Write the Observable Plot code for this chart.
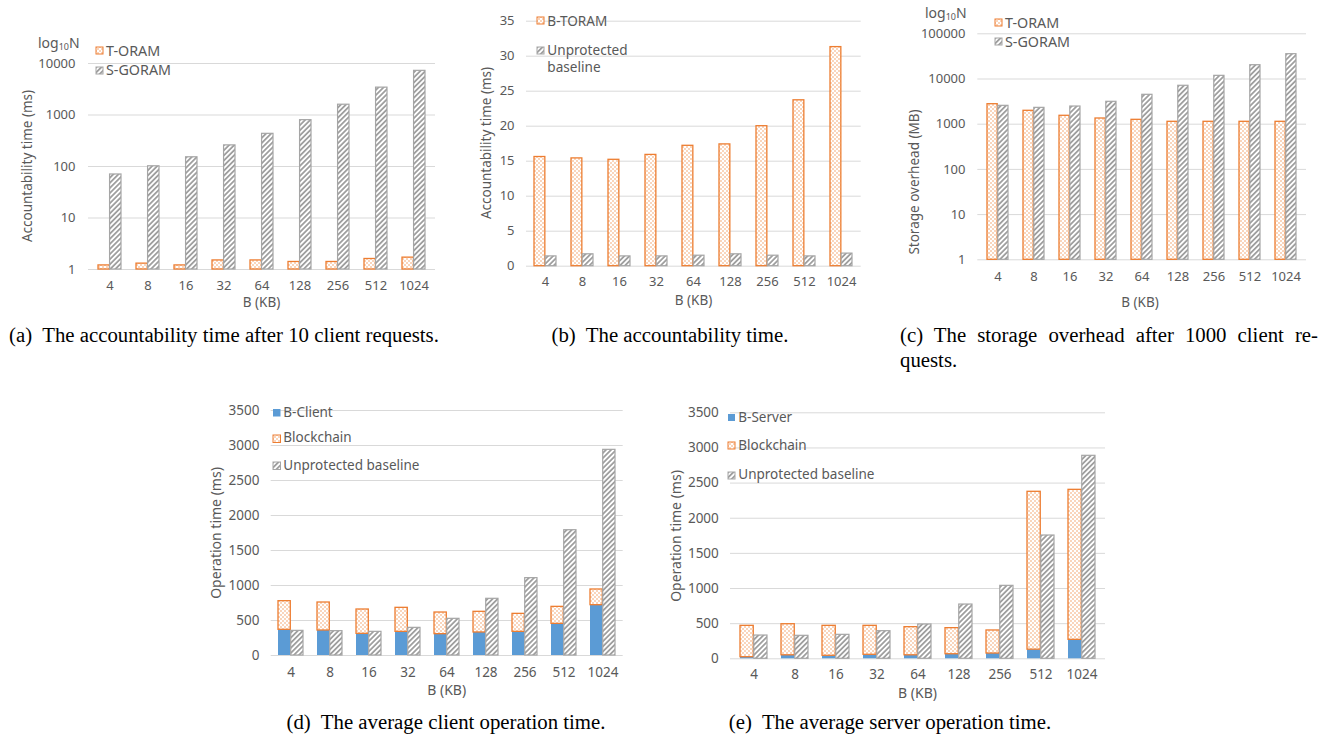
<!DOCTYPE html>
<html><head><meta charset="utf-8">
<script src="https://cdn.jsdelivr.net/npm/d3@7"></script>
<script src="https://cdn.jsdelivr.net/npm/@observablehq/plot@0.6"></script>
<style>
html,body{margin:0;padding:0;background:#fff;}
body{width:1328px;height:740px;position:relative;overflow:hidden;font-family:"Noto Sans",sans-serif;}
.chart{position:absolute;}
.lbl{position:absolute;color:#595959;white-space:nowrap;line-height:1;}
.cap{position:absolute;font-family:"Liberation Serif","Times New Roman",serif;font-size:20.8px;color:#000;white-space:pre;line-height:1;}
</style></head><body>
<svg width="0" height="0" style="position:absolute">
<defs>
<pattern id="dots" width="4" height="4" patternUnits="userSpaceOnUse">
<rect width="4" height="4" fill="#fff"/>
<rect width="2" height="2" fill="#F9D5BC"/>
<rect x="2" y="2" width="2" height="2" fill="#F9D5BC"/>
</pattern>
<pattern id="hatch" width="3.6" height="3.6" patternUnits="userSpaceOnUse" patternTransform="rotate(45)">
<rect width="3.6" height="3.6" fill="#fff"/>
<line x1="1.8" y1="0" x2="1.8" y2="3.6" stroke="#8C8C8C" stroke-width="1.5"/>
</pattern>
</defs></svg>
<script>
// ---------- data ----------
const categories = ["4","8","16","32","64","128","256","512","1024"];

// (a) accountability time after 10 client requests (ms, log)
const aTORAM  = [1.2, 1.3, 1.2, 1.5, 1.5, 1.4, 1.4, 1.6, 1.7];
const aSGORAM = [70, 101, 151, 257, 431, 794, 1585, 3400, 7200];
const aTicks  = [1, 10, 100, 1000, 10000];

// (b) accountability time (ms)
const bBTORAM   = [15.6, 15.4, 15.2, 15.9, 17.2, 17.4, 20.0, 23.7, 31.3];
const bBaseline = [1.4, 1.7, 1.4, 1.4, 1.5, 1.7, 1.5, 1.4, 1.8];
const bTicks    = [0, 5, 10, 15, 20, 25, 30, 35];

// (c) storage overhead after 1000 client requests (MB, log)
const cTORAM  = [2770, 1980, 1535, 1337, 1250, 1130, 1130, 1130, 1130];
const cSGORAM = [2550, 2300, 2460, 3130, 4470, 7080, 11750, 20200, 35400];
const cTicks  = [1, 10, 100, 1000, 10000, 100000];

// (d) average client operation time (ms)
const dClient   = [367, 357, 310, 338, 305, 329, 338, 452, 719];
const dChain    = [409, 400, 347, 343, 309, 295, 257, 243, 224];
const dBaseline = [352, 348, 338, 395, 524, 810, 1105, 1790, 2938];
const opTicks   = [0, 500, 1000, 1500, 2000, 2500, 3000, 3500];

// (e) average server operation time (ms)
const eServer   = [23, 50, 43, 57, 50, 65, 75, 130, 270];
const eChain    = [446, 442, 426, 412, 400, 371, 328, 2246, 2134];
const eBaseline = [331, 327, 341, 393, 488, 772, 1038, 1754, 2888];

// ---------- styles ----------
const ORANGE = "#ED7D31", GRAY = "#A5A5A5", BLUE = "#5B9BD5", GRID = "#D9D9D9", TEXT = "#595959";
const SW = {
  orange: {fill: "url(#dots)", stroke: ORANGE, sw: 1.3},
  gray:   {fill: "url(#hatch)", stroke: GRAY, sw: 1.2},
  blue:   {fill: BLUE, stroke: "none", sw: 0}
};

function chart(c) {
  const n = categories.length;
  const step = (c.width - c.ml - c.mr) / n;
  const half = step * (1 - c.pad) / 2;
  const base = c.log ? 1 : 0;
  const marks = [Plot.ruleY(c.ticks, {stroke: GRID, strokeWidth: 1})];
  for (const s of c.series) {
    const data = categories.map((cat, i) => ({
      cat,
      lo: s.under ? s.under[i] : base,
      hi: (s.under ? s.under[i] : 0) + s.values[i]
    }));
    const st = SW[s.style];
    marks.push(Plot.barY(data, {
      x: "cat", y1: "lo", y2: "hi",
      fill: st.fill, stroke: st.stroke, strokeWidth: st.sw,
      insetLeft: s.side === "left" ? 0 : half,
      insetRight: s.side === "left" ? half : 0
    }));
  }
  const svg = Plot.plot({
    width: c.width, height: c.height,
    marginLeft: c.ml, marginRight: c.mr, marginTop: c.mt, marginBottom: c.mb,
    style: {fontFamily: '"Noto Sans", sans-serif', fontSize: c.fs + "px", color: TEXT, background: "transparent", overflow: "visible"},
    x: {domain: categories, paddingInner: c.pad, paddingOuter: c.pad / 2, align: 0.5, tickSize: 0, tickPadding: c.xtp, label: null},
    y: {type: c.log ? "log" : "linear", domain: c.domain, ticks: c.ticks, tickFormat: d => String(d), tickSize: 0, tickPadding: c.ytp, label: null},
    marks
  });
  const div = document.createElement("div");
  div.className = "chart";
  div.style.left = c.left + "px";
  div.style.top = c.top + "px";
  div.style.width = c.width + "px";
  div.style.height = c.height + "px";
  div.appendChild(svg);
  document.body.appendChild(div);
}

function text(html, x, y, o = {}) {
  const d = document.createElement("div");
  d.className = o.cls || "lbl";
  d.innerHTML = html;
  d.style.left = x + "px";
  d.style.top = y + "px";
  if (o.fs) d.style.fontSize = o.fs + "px";
  let tr = o.anchor === "middle" ? "translate(-50%,-50%)" : "translate(0,-50%)";
  if (o.rotate) tr = "translate(-50%,-50%) rotate(-90deg)";
  d.style.transform = tr;
  document.body.appendChild(d);
  return d;
}

function legend(x, tx, items, fs, size) {
  for (const it of items) {
    const st = SW[it.style];
    const ns = "http://www.w3.org/2000/svg";
    const s = document.createElementNS(ns, "svg");
    s.setAttribute("width", size + 2); s.setAttribute("height", size + 2);
    s.style.position = "absolute";
    s.style.left = (x - 1) + "px";
    s.style.top = (it.y - size / 2 - 1) + "px";
    const r = document.createElementNS(ns, "rect");
    r.setAttribute("x", 1); r.setAttribute("y", 1);
    r.setAttribute("width", size); r.setAttribute("height", size);
    r.setAttribute("fill", st.fill);
    if (st.stroke !== "none") { r.setAttribute("stroke", st.stroke); r.setAttribute("stroke-width", 1); }
    s.appendChild(r);
    document.body.appendChild(s);
    text(it.label, tx, it.y, {fs});
    if (it.label2) text(it.label2, tx, it.y2, {fs});
  }
}

// (a)
chart({left: 0, top: 0, width: 440, height: 320, ml: 88, mr: 5, mt: 63, mb: 51, log: true,
  domain: [1, 10000], ticks: aTicks, fs: 13, ytp: 13, xtp: 11, pad: 0.4,
  series: [{values: aTORAM, style: "orange", side: "left"}, {values: aSGORAM, style: "gray", side: "right"}]});
// (b)
chart({left: 440, top: 0, width: 440, height: 320, ml: 86, mr: 19.3, mt: 20.7, mb: 54.3, log: false,
  domain: [0, 35], ticks: bTicks, fs: 13, ytp: 12, xtp: 11, pad: 0.4,
  series: [{values: bBTORAM, style: "orange", side: "left"}, {values: bBaseline, style: "gray", side: "right"}]});
// (c)
chart({left: 880, top: 0, width: 448, height: 320, ml: 97.3, mr: 22, mt: 33.3, mb: 60.7, log: true,
  domain: [1, 100000], ticks: cTicks, fs: 13, ytp: 12.3, xtp: 12, pad: 0.41,
  series: [{values: cTORAM, style: "orange", side: "left"}, {values: cSGORAM, style: "gray", side: "right"}]});
// (d)
chart({left: 200, top: 390, width: 440, height: 320, ml: 70.7, mr: 17.3, mt: 20, mb: 55, log: false,
  domain: [0, 3500], ticks: opTicks, fs: 13.5, ytp: 11.7, xtp: 12, pad: 0.35,
  series: [{values: dClient, style: "blue", side: "left"},
           {values: dChain, under: dClient, style: "orange", side: "left"},
           {values: dBaseline, style: "gray", side: "right"}]});
// (e)
chart({left: 660, top: 390, width: 460, height: 320, ml: 70, mr: 15, mt: 22.3, mb: 51.7, log: false,
  domain: [0, 3500], ticks: opTicks, fs: 13.5, ytp: 11.7, xtp: 11, pad: 0.34,
  series: [{values: eServer, style: "blue", side: "left"},
           {values: eChain, under: eServer, style: "orange", side: "left"},
           {values: eBaseline, style: "gray", side: "right"}]});

// axis titles
text("Accountability time (ms)", 28, 166, {rotate: true, fs: 13.5});
text("B (KB)", 261.5, 303, {anchor: "middle", fs: 13.5});
text("Accountability time (ms)", 486.7, 143, {rotate: true, fs: 13.5});
text("B (KB)", 693.5, 301, {anchor: "middle", fs: 13.5});
text("Storage overhead (MB)", 915, 181.7, {rotate: true, fs: 13.5});
text("B (KB)", 1140, 303, {anchor: "middle", fs: 13.5});
text("Operation time (ms)", 216, 532.5, {rotate: true, fs: 14});
text("B (KB)", 446.7, 690, {anchor: "middle", fs: 14});
text("Operation time (ms)", 676, 535.7, {rotate: true, fs: 14});
text("B (KB)", 917.5, 693.3, {anchor: "middle", fs: 14});

// log10N markers
text('log<sub style="font-size:9px;vertical-align:-2px">10</sub>N', 38, 43, {fs: 14});
text('log<sub style="font-size:9px;vertical-align:-2px">10</sub>N', 925, 12.7, {fs: 14});

// legends
legend(96, 106, [{style: "orange", y: 50.7, label: "T-ORAM"}, {style: "gray", y: 70, label: "S-GORAM"}], 14.3, 7);
legend(537.3, 547.3, [{style: "orange", y: 20.7, label: "B-TORAM"}, {style: "gray", y: 50, label: "Unprotected", label2: "baseline", y2: 66.8}], 13.6, 7);
legend(995, 1005, [{style: "orange", y: 22.7, label: "T-ORAM"}, {style: "gray", y: 41.7, label: "S-GORAM"}], 14.3, 7);
legend(272.7, 283.3, [{style: "blue", y: 412.7, label: "B-Client"}, {style: "orange", y: 438.3, label: "Blockchain"}, {style: "gray", y: 465.7, label: "Unprotected baseline"}], 13.5, 7.5);
legend(728.3, 738.3, [{style: "blue", y: 417.7, label: "B-Server"}, {style: "orange", y: 445.7, label: "Blockchain"}, {style: "gray", y: 475, label: "Unprotected baseline"}], 13.5, 7);

// captions
text("(a)  The accountability time after 10 client requests.", 224, 335, {cls: "cap", anchor: "middle"});
text("(b)  The accountability time.", 670, 335, {cls: "cap", anchor: "middle"});
{
  const d = text("(c)  The storage overhead after 1000 client re-", 900, 335, {cls: "cap"});
  d.style.whiteSpace = "normal";
  d.style.width = "418px";
  d.style.textAlign = "justify";
  d.style.textAlignLast = "justify";
  text("quests.", 900, 360, {cls: "cap"});
}
text("(d)  The average client operation time.", 446, 722, {cls: "cap", anchor: "middle"});
text("(e)  The average server operation time.", 890, 722, {cls: "cap", anchor: "middle"});
</script>
</body></html>
